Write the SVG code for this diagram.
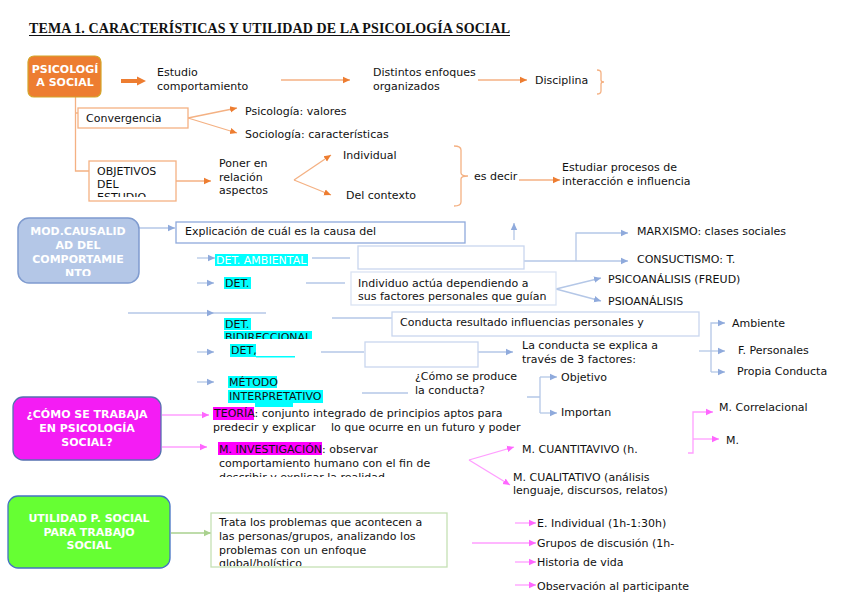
<svg xmlns="http://www.w3.org/2000/svg" width="848" height="599" viewBox="0 0 848 599">
<style>
text{font-family:"DejaVu Sans","Liberation Sans",sans-serif;font-size:11px;fill:#111}
.t{font-family:"Liberation Serif","DejaVu Serif",serif;font-size:14px;font-weight:bold;fill:#111}
.w{fill:#fff;font-weight:bold;text-anchor:middle}
.lo{stroke:#F4B183;stroke-width:1.3;fill:none}
.lb{stroke:#B4C7E7;stroke-width:1.3;fill:none}
.lp{stroke:#FF9EFF;stroke-width:1.3;fill:none}
.lg{stroke:#A9D18E;stroke-width:1.3;fill:none}
.bo{fill:#fff;stroke:#F4B183;stroke-width:1.3}
.bb{fill:#fff;stroke:#C9D6EE;stroke-width:1.3}
.cy{fill:#00FFFF}
.mg{fill:#FF00FF}
</style>
<defs>
<marker id="ao" markerUnits="userSpaceOnUse" markerWidth="8" markerHeight="8" refX="7" refY="4" orient="auto"><path d="M0,0.8 L7,4 L0,7.2z" fill="#ED7D31"/></marker>
<marker id="aoT" markerUnits="userSpaceOnUse" markerWidth="10" markerHeight="10" refX="0" refY="5" orient="auto"><path d="M0,0.5 L9,5 L0,9.5z" fill="#ED7D31"/></marker>
<marker id="ab" markerUnits="userSpaceOnUse" markerWidth="8" markerHeight="8" refX="7" refY="4" orient="auto"><path d="M0,0.8 L7,4 L0,7.2z" fill="#8FAADC"/></marker>
<marker id="ap" markerUnits="userSpaceOnUse" markerWidth="8" markerHeight="8" refX="7" refY="4" orient="auto"><path d="M0,0.8 L7,4 L0,7.2z" fill="#FF66FF"/></marker>
<marker id="ag" markerUnits="userSpaceOnUse" markerWidth="8" markerHeight="8" refX="7" refY="4" orient="auto"><path d="M0,0.8 L7,4 L0,7.2z" fill="#A9D18E"/></marker>
<clipPath id="cObj"><rect x="89" y="161" width="87" height="36"/></clipPath>
<clipPath id="cMod"><rect x="18" y="218" width="121" height="58"/></clipPath>
<clipPath id="cBid"><rect x="200" y="300" width="140" height="39"/></clipPath>
<clipPath id="cInv"><rect x="210" y="436" width="260" height="41"/></clipPath>
<clipPath id="cTra"><rect x="211" y="513" width="236" height="53"/></clipPath>
</defs>
<rect width="848" height="599" fill="#fff"/>

<g id="title">
<text class="t" x="29" y="33" textLength="481" lengthAdjust="spacing">TEMA 1. CARACTERÍSTICAS Y UTILIDAD DE LA PSICOLOGÍA SOCIAL</text>
<line x1="29" y1="35.5" x2="510" y2="35.5" stroke="#111" stroke-width="1"/>
</g>

<g id="connectors">
<line x1="121" y1="81" x2="137" y2="81" stroke="#ED7D31" stroke-width="4" marker-end="url(#aoT)"/>
<path class="lo" d="M281,80 L350,80" marker-end="url(#ao)"/>
<path class="lo" d="M478,80 L527,80" marker-end="url(#ao)"/>
<path class="lo" d="M597,70 Q601,70 601,73 L601,80 Q601,82 604,82 Q601,82 601,84 L601,91 Q601,94 597,94"/>
<path class="lo" d="M75.5,97 L75.5,171 L89,171 M75.5,113 L78,113"/>
<path class="lo" d="M188,118 L237,108" marker-end="url(#ao)"/>
<path class="lo" d="M188,118 L237,133" marker-end="url(#ao)"/>
<path class="lo" d="M176,181 L211,181" marker-end="url(#ao)"/>
<path class="lo" d="M294,180 L331,155" marker-end="url(#ao)"/>
<path class="lo" d="M294,180 L331,195" marker-end="url(#ao)"/>
<path class="lo" d="M454,146 Q461,146 461,150 L461,173 Q461,176 468,176 Q461,176 461,179 L461,202 Q461,206 454,206"/>
<path class="lo" d="M519,180 L560,180" marker-end="url(#ao)"/>

<path class="lb" d="M139,228 L175,228" marker-end="url(#ab)"/>
<path class="lb" d="M514,240 L514,223" marker-end="url(#ab)"/>
<path class="lb" d="M197,258 L215,258" marker-end="url(#ab)"/>
<path class="lb" d="M312,258 L350,258"/>
<path class="lb" d="M197,283 L214,283" marker-end="url(#ab)"/>
<path class="lb" d="M306,283 L345,283"/>
<path class="lb" d="M128,313 L214,313 L266,313" marker-mid="url(#ab)"/>
<path class="lb" d="M332,318 L392,318"/>
<path class="lb" d="M197,352 L214,352" marker-end="url(#ab)"/>
<path class="lb" d="M321,352 L364,352"/>
<path class="lb" d="M478,352 L513,352" marker-end="url(#ab)"/>
<path class="lb" d="M197,382 L214,382" marker-end="url(#ab)"/>
<path class="lb" d="M362,393 L408,393"/>
<path class="lb" d="M524,261 L628,261" marker-end="url(#ab)"/>
<path class="lb" d="M576,261 L576,233 L628,233" marker-end="url(#ab)"/>
<path class="lb" d="M556,289 L601,278" marker-end="url(#ab)"/>
<path class="lb" d="M556,289 L601,301" marker-end="url(#ab)"/>
<path class="lb" d="M711,372 L711,323 L725,323" marker-end="url(#ab)"/>
<path class="lb" d="M711,372 L725,372" marker-end="url(#ab)"/>
<path class="lb" d="M699,351 L725,351" marker-end="url(#ab)"/>
<path class="lb" d="M527,397 L540,397 M540,413 L540,377"/>
<path class="lb" d="M540,377 L557,377" marker-end="url(#ab)"/>
<path class="lb" d="M540,413 L557,413" marker-end="url(#ab)"/>

<path class="lp" d="M162,415 L209,415" marker-end="url(#ap)"/>
<path class="lp" d="M162,447 L207,447" marker-end="url(#ap)"/>
<path class="lp" d="M469,460 L514,447" marker-end="url(#ap)"/>
<path class="lp" d="M469,460 L510,485" marker-end="url(#ap)"/>
<path class="lp" d="M688,453 L693,453 L693,412 L713,412" marker-end="url(#ap)"/>
<path class="lp" d="M693,439 L719,439" marker-end="url(#ap)"/>
<path class="lp" d="M515,523 L536,523" marker-end="url(#ap)"/>
<path class="lp" d="M472,543 L536,543" marker-end="url(#ap)"/>
<path class="lp" d="M515,562 L536,562" marker-end="url(#ap)"/>
<path class="lp" d="M515,585 L536,585" marker-end="url(#ap)"/>

<path class="lg" d="M171,533 L211,533" marker-end="url(#ag)"/>
</g>

<g id="psicologia-social">
<rect x="28" y="56" width="73" height="41" rx="6" fill="#ED7D31" stroke="#D4A52A" stroke-width="1.2"/>
<text class="w" x="65" y="73">PSICOLOGÍ</text>
<text class="w" x="65" y="86">A SOCIAL</text>
</g>
<g id="estudio"><text x="157" y="76">Estudio</text><text x="157" y="90">comportamiento</text></g>
<g id="enfoques"><text x="373" y="76">Distintos enfoques</text><text x="373" y="90">organizados</text></g>
<g id="disciplina"><text x="535" y="84">Disciplina</text></g>
<g id="convergencia"><rect class="bo" x="78" y="108" width="110" height="20"/><text x="86" y="122">Convergencia</text></g>
<g id="psicologia-valores"><text x="245" y="115">Psicología: valores</text></g>
<g id="sociologia"><text x="245" y="138">Sociología: características</text></g>
<g id="objetivos">
<rect class="bo" x="89" y="161" width="87" height="40"/>
<g clip-path="url(#cObj)"><text x="97" y="175">OBJETIVOS</text><text x="97" y="188">DEL</text><text x="97" y="201">ESTUDIO</text></g>
</g>
<g id="poner"><text x="219" y="167">Poner en</text><text x="219" y="181">relación</text><text x="219" y="194">aspectos</text></g>
<g id="individual"><text x="343" y="159">Individual</text></g>
<g id="contexto"><text x="346" y="199">Del contexto</text></g>
<g id="es-decir"><text x="474" y="180">es decir</text></g>
<g id="estudiar"><text x="562" y="171">Estudiar procesos de</text><text x="562" y="185">interacción e influencia</text></g>

<g id="mod-causalidad">
<rect x="18" y="218" width="121" height="65" rx="11" fill="#B4C7E7" stroke="#7F9BCF" stroke-width="1.5"/>
<g clip-path="url(#cMod)">
<text class="w" x="78" y="235" font-size="10.5">MOD.CAUSALID</text>
<text class="w" x="78" y="249" font-size="10.5">AD DEL</text>
<text class="w" x="78" y="263" font-size="10.5">COMPORTAMIE</text>
<text class="w" x="78" y="277" font-size="10.5">NTO</text>
</g>
</g>
<g id="explicacion"><rect x="176" y="222" width="289" height="21" fill="#fff" stroke="#8FAADC" stroke-width="1.3"/><text x="185" y="235">Explicación de cuál es la causa del</text></g>
<g id="det-ambiental"><rect class="cy" x="215" y="254" width="93" height="12"/><text x="216" y="264" style="fill:#fff">DET. AMBIENTAL</text></g>
<g id="box-vacio-1"><rect class="bb" x="358" y="246" width="166" height="23"/></g>
<g id="marxismo"><text x="637" y="235">MARXISMO: clases sociales</text></g>
<g id="conductismo"><text x="637" y="263">CONSUCTISMO: T.</text></g>
<g id="det-2"><rect class="cy" x="224" y="277" width="27" height="12"/><text x="225" y="287">DET.</text></g>
<g id="individuo"><rect x="351" y="272" width="205" height="33" fill="#fff" stroke="#DAE3F3" stroke-width="1.3"/><text x="358" y="287">Individuo actúa dependiendo a</text><text x="358" y="300">sus factores personales que guían</text></g>
<g id="psicoanalisis"><text x="608" y="283">PSICOANÁLISIS (FREUD)</text></g>
<g id="psioanalisis"><text x="608" y="305">PSIOANÁLISIS</text></g>
<g id="det-bidireccional">
<rect class="cy" x="224" y="318" width="27" height="12"/>
<rect class="cy" x="224" y="331" width="88" height="8"/>
<g clip-path="url(#cBid)"><text x="225" y="328">DET.</text><text x="225" y="341">BIDIRECCIONAL</text></g>
</g>
<g id="conducta-resultado"><rect class="bb" x="392" y="312" width="307" height="24"/><text x="400" y="326">Conducta resultado influencias personales y</text></g>
<g id="ambiente"><text x="732" y="327">Ambiente</text></g>
<g id="f-personales"><text x="738" y="354">F. Personales</text></g>
<g id="propia-conducta"><text x="737" y="375">Propia Conducta</text></g>
<g id="det-3"><rect class="cy" x="230" y="344" width="26" height="13"/><rect class="cy" x="256" y="356" width="39" height="1.5"/><text x="231" y="354">DET,</text></g>
<g id="box-vacio-2"><rect class="bb" x="365" y="342" width="113" height="25"/></g>
<g id="tres-factores"><text x="522" y="349">La conducta se explica a</text><text x="522" y="363">través de 3 factores:</text></g>
<g id="metodo">
<rect class="cy" x="228" y="376" width="49" height="12"/>
<rect class="cy" x="228" y="390" width="95" height="13"/>
<rect class="cy" x="255" y="403" width="38" height="4"/>
<text x="229" y="386">MÉTODO</text><text x="229" y="400">INTERPRETATIVO</text>
</g>
<g id="como-produce"><text x="415" y="380">¿Cómo se produce</text><text x="415" y="394">la conducta?</text></g>
<g id="objetivo"><text x="561" y="381">Objetivo</text></g>
<g id="importan"><text x="561" y="416">Importan</text></g>

<g id="como-trabaja">
<rect x="13" y="397" width="148" height="63" rx="10" fill="#F41CF4" stroke="#5670B0" stroke-width="1.3"/>
<text class="w" x="87" y="418">¿CÓMO SE TRABAJA</text>
<text class="w" x="87" y="432">EN PSICOLOGÍA</text>
<text class="w" x="87" y="446">SOCIAL?</text>
</g>
<g id="teoria">
<rect class="mg" x="213" y="407" width="41" height="13"/>
<text x="214" y="417">TEORÍA: conjunto integrado de principios aptos para</text>
<text x="213" y="431">predecir y explicar</text><text x="331" y="431">lo que ocurre en un futuro y poder</text>
</g>
<g id="investigacion">
<rect class="mg" x="218" y="442" width="104" height="13"/>
<g clip-path="url(#cInv)">
<text x="219" y="453">M. INVESTIGACIÓN: observar</text>
<text x="219" y="467">comportamiento humano con el fin de</text>
<text x="219" y="481">describir y explicar la realidad</text>
</g>
</g>
<g id="cuantitativo"><text x="522" y="453">M. CUANTITAVIVO (h.</text></g>
<g id="cualitativo"><text x="513" y="481">M. CUALITATIVO (análisis</text><text x="513" y="494">lenguaje, discursos, relatos)</text></g>
<g id="correlacional"><text x="719" y="411">M. Correlacional</text></g>
<g id="m"><text x="726" y="444">M.</text></g>

<g id="utilidad">
<rect x="8" y="496" width="162" height="72" rx="10" fill="#66FF33" stroke="#4472C4" stroke-width="1.3"/>
<text class="w" x="89" y="522">UTILIDAD P. SOCIAL</text>
<text class="w" x="89" y="536">PARA TRABAJO</text>
<text class="w" x="89" y="549">SOCIAL</text>
</g>
<g id="trata">
<rect x="211" y="513" width="236" height="54" fill="#fff" stroke="#C5E0B4" stroke-width="1.3"/>
<g clip-path="url(#cTra)">
<text x="219" y="526">Trata los problemas que acontecen a</text>
<text x="219" y="540">las personas/grupos, analizando los</text>
<text x="219" y="554">problemas con un enfoque</text>
<text x="219" y="567">global/holístico</text>
</g>
</g>
<g id="e-individual"><text x="537" y="527">E. Individual (1h-1:30h)</text></g>
<g id="grupos"><text x="537" y="547">Grupos de discusión (1h-</text></g>
<g id="historia"><text x="537" y="566">Historia de vida</text></g>
<g id="observacion"><text x="537" y="590">Observación al participante</text></g>
</svg>
